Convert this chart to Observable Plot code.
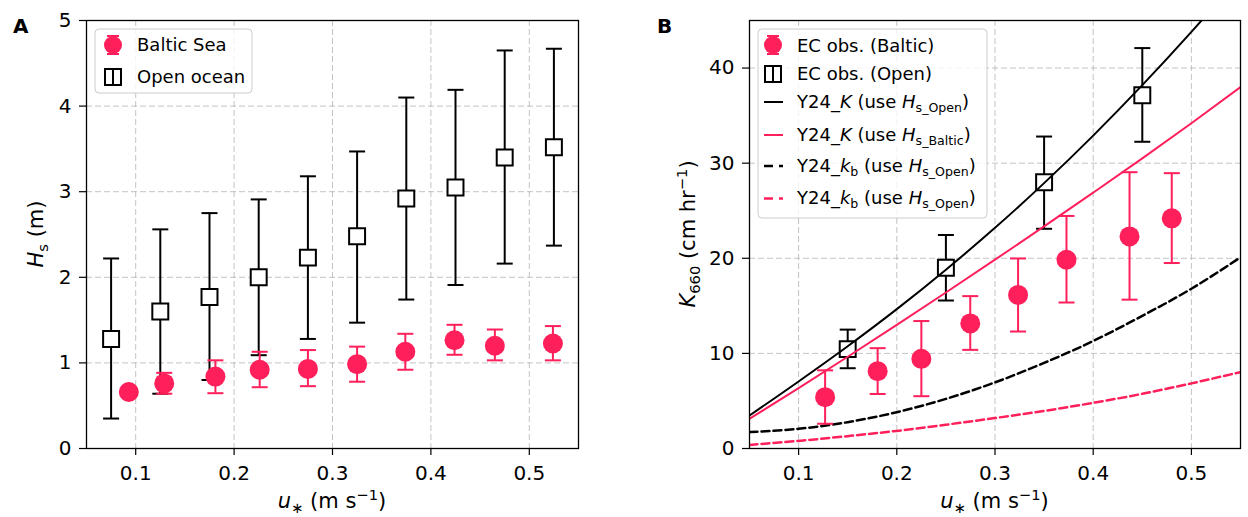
<!DOCTYPE html>
<html><head><meta charset="utf-8">
<script src="https://cdn.jsdelivr.net/npm/d3@7"></script>
<script src="https://cdn.jsdelivr.net/npm/@observablehq/plot@0.6"></script>
<style>
body{margin:0;background:#fff;}
#wrap{display:flex;width:1248px;height:517px;}
#wrap svg{font-family:"DejaVu Sans",sans-serif;overflow:visible;}
#wrap svg g[aria-label$="tick label"]{font-size:20px !important;}
#wrap svg g[aria-label$="tick label"] text{font-size:20px !important;}
</style></head><body><div id="wrap"></div>
<script>
// ---------- Panel A data ----------
const uOpenA   = [0.075,0.125,0.175,0.225,0.275,0.325,0.375,0.425,0.475,0.525];
const hsOpen   = [1.28,1.60,1.77,2.00,2.23,2.48,2.92,3.05,3.40,3.52];
const hsOpenLo = [0.35,0.64,0.80,1.09,1.28,1.47,1.74,1.91,2.16,2.37];
const hsOpenHi = [2.22,2.56,2.75,2.91,3.18,3.47,4.10,4.19,4.65,4.67];
const uBalticA   = [0.093,0.129,0.181,0.226,0.275,0.325,0.374,0.424,0.465,0.524];
const hsBaltic   = [0.66,0.76,0.84,0.92,0.93,0.985,1.13,1.265,1.20,1.227];
const hsBalticLo = [0.66,0.64,0.646,0.716,0.728,0.78,0.92,1.095,1.03,1.03];
const hsBalticHi = [0.66,0.884,1.03,1.13,1.15,1.19,1.34,1.445,1.39,1.43];
// ---------- Panel B data ----------
const uOpenB  = [0.15,0.25,0.35,0.45];
const kOpen   = [10.45,19.0,28.0,37.15];
const kOpenLo = [8.44,15.56,23.1,32.25];
const kOpenHi = [12.5,22.45,32.8,42.1];
const uBalticB  = [0.127,0.1805,0.225,0.2748,0.3235,0.3728,0.437,0.48];
const kBaltic   = [5.4,8.13,9.43,13.15,16.15,19.84,22.3,24.2];
const kBalticLo = [2.6,5.73,5.5,10.37,12.3,15.35,15.65,19.5];
const kBalticHi = [8.22,10.55,13.4,16.02,19.98,24.45,29.05,28.95];
const uModel       = [0.05,0.10,0.15,0.20,0.25,0.30,0.35,0.40,0.45,0.50,0.55];
const kOpenModel   = [3.47,7.05,10.75,14.65,18.8,23.2,27.9,32.9,38.2,43.8,49.7];
const kBalticModel = [3.12,6.35,9.65,13.0,16.4,19.85,23.35,26.9,30.5,34.2,38.0];
const kbOpenModel  = [1.72,2.07,2.77,3.82,5.22,6.95,9.0,11.3,13.95,16.8,20.1];
const kbPinkModel  = [0.38,0.8,1.3,1.85,2.5,3.2,3.95,4.8,5.75,6.85,8.03];
const xTicks = [0.1,0.2,0.3,0.4,0.5];
const yTicksA = [0,1,2,3,4,5];
const yTicksB = [0,10,20,30,40];

const PINK = "#ff1f5b";
const rows = (xs, ...cols) => xs.map((x,i)=>({x, v:cols[0][i], lo:cols[1][i], hi:cols[2][i]}));
const openA = rows(uOpenA, hsOpen, hsOpenLo, hsOpenHi);
const balA  = rows(uBalticA, hsBaltic, hsBalticLo, hsBalticHi);
const openB = rows(uOpenB, kOpen, kOpenLo, kOpenHi);
const balB  = rows(uBalticB, kBaltic, kBalticLo, kBalticHi);
const model = (ys)=>uModel.map((x,i)=>({x, y:ys[i]}));

const capSymbol = {draw(ctx, size){const w=Math.sqrt(size/Math.PI); ctx.moveTo(-w,0); ctx.lineTo(w,0);}};
const grid = {stroke:"#b0b0b0", strokeOpacity:0.75, strokeWidth:1, strokeDasharray:"6,3"};
function errorbars(data, color){
  return [
    Plot.ruleX(data, {x:"x", y1:"lo", y2:"hi", stroke:color, strokeWidth:2}),
    Plot.dot(data, {x:"x", y:"lo", symbol:capSymbol, r:8, stroke:color, strokeWidth:2}),
    Plot.dot(data, {x:"x", y:"hi", symbol:capSymbol, r:8, stroke:color, strokeWidth:2})
  ];
}
function axes(yt){
  return [
    Plot.gridX(xTicks, grid), Plot.gridY(yt, grid),
    Plot.axisX(xTicks, {tickSize:7, tickPadding:10, fontSize:20, tickFormat:d=>d.toFixed(1), label:null, strokeWidth:1.2}),
    Plot.axisY(yt, {tickSize:7, tickPadding:8, fontSize:20, tickFormat:d=>String(d), label:null, strokeWidth:1.2})
  ];
}
const smooth = "monotone-x";

const chartA = Plot.plot({
  width:624, height:517, marginLeft:86, marginRight:46, marginTop:20, marginBottom:69,
  style:{fontFamily:"DejaVu Sans", fontSize:"20px", color:"#000", background:"#fff"},
  x:{domain:[0.05,0.55]}, y:{domain:[0,5]},
  marks:[
    ...axes(yTicksA),
    ...errorbars(openA, "#000"),
    Plot.dot(openA, {x:"x", y:"v", symbol:"square", r:9, fill:"#fff", stroke:"#000", strokeWidth:2}),
    ...errorbars(balA, PINK),
    Plot.dot(balA, {x:"x", y:"v", r:10, fill:PINK}),
    Plot.frame({stroke:"#000", strokeWidth:1.3})
  ]
});

const chartB = Plot.plot({
  width:624, height:517, marginLeft:125, marginRight:8, marginTop:20, marginBottom:69,
  style:{fontFamily:"DejaVu Sans", fontSize:"20px", color:"#000", background:"#fff"},
  x:{domain:[0.05,0.55]}, y:{domain:[0,45]},
  marks:[
    ...axes(yTicksB),
    ...errorbars(openB, "#000"),
    Plot.dot(openB, {x:"x", y:"v", symbol:"square", r:9, fill:"#fff", stroke:"#000", strokeWidth:2}),
    Plot.line(model(kOpenModel), {x:"x", y:"y", stroke:"#000", strokeWidth:2, curve:smooth, clip:true}),
    Plot.line(model(kBalticModel), {x:"x", y:"y", stroke:PINK, strokeWidth:2, curve:smooth, clip:true}),
    Plot.line(model(kbOpenModel), {x:"x", y:"y", stroke:"#000", strokeWidth:2.5, strokeDasharray:"8,4", curve:smooth, clip:true}),
    Plot.line(model(kbPinkModel), {x:"x", y:"y", stroke:PINK, strokeWidth:2.5, strokeDasharray:"8,4", curve:smooth, clip:true}),
    ...errorbars(balB, PINK),
    Plot.dot(balB, {x:"x", y:"v", r:10, fill:PINK}),
    Plot.frame({stroke:"#000", strokeWidth:1.3})
  ]
});

document.getElementById("wrap").append(chartA, chartB);
for (const c of [chartA, chartB]) {
  d3.select(c).selectAll('g[aria-label$="tick label"]').attr("font-size", 20);
}

function rich(g, x, y, parts, {size=20, anchor="start", rotate=0, weight="normal"}={}){
  const t = g.append("text").attr("transform",`translate(${x},${y}) rotate(${rotate})`)
    .attr("text-anchor",anchor).attr("font-size",size).attr("font-weight",weight)
    .attr("fill","#000").attr("font-family","DejaVu Sans");
  let shift=0;
  for(const p of parts){
    const ts=t.append("tspan").text(p.t);
    if(p.i) ts.attr("font-style","italic");
    const target = p.s==="sub"? size*0.22 : p.s==="sup"? -size*0.38 : 0;
    ts.attr("dy", target-shift); shift=target;
    if(p.s) ts.attr("font-size", size*0.7);
  }
  return t;
}

// ---- Panel A annotations ----
const sA = d3.select(chartA);
rich(sA, 13, 33, [{t:"A"}], {weight:"bold"});
rich(sA, 332, 508, [{t:"u",i:1},{t:"∗",s:"sub"},{t:" (m s"},{t:"−1",s:"sup"},{t:")"}], {anchor:"middle", size:21});
rich(sA, 43, 234, [{t:"H",i:1},{t:"s",s:"sub"},{t:" (m)"}], {anchor:"middle", rotate:-90, size:21});
// legend A
const lA = sA.append("g");
lA.append("rect").attr("x",95).attr("y",29).attr("width",157).attr("height",64).attr("rx",4)
  .attr("fill","#fff").attr("fill-opacity",0.8).attr("stroke","#cccccc");
lA.append("line").attr("x1",113).attr("x2",113).attr("y1",36).attr("y2",54).attr("stroke",PINK).attr("stroke-width",2);
lA.append("line").attr("x1",107).attr("x2",119).attr("y1",36).attr("y2",36).attr("stroke",PINK).attr("stroke-width",2);
lA.append("line").attr("x1",107).attr("x2",119).attr("y1",54).attr("y2",54).attr("stroke",PINK).attr("stroke-width",2);
lA.append("circle").attr("cx",113).attr("cy",45).attr("r",9).attr("fill",PINK);
lA.append("rect").attr("x",105).attr("y",69).attr("width",16).attr("height",16).attr("fill","#fff").attr("stroke","#000").attr("stroke-width",2);
lA.append("line").attr("x1",113).attr("x2",113).attr("y1",69).attr("y2",85).attr("stroke","#000").attr("stroke-width",2);
rich(lA, 137, 51, [{t:"Baltic Sea"}], {size:18});
rich(lA, 137, 83, [{t:"Open ocean"}], {size:18});

// ---- Panel B annotations ---- (offset 624)
const sB = d3.select(chartB);
const o = 624;
rich(sB, 657-o, 33, [{t:"B"}], {weight:"bold"});
rich(sB, 994.5-o, 508, [{t:"u",i:1},{t:"∗",s:"sub"},{t:" (m s"},{t:"−1",s:"sup"},{t:")"}], {anchor:"middle", size:21});
rich(sB, 695-o, 234, [{t:"K",i:1},{t:"660",s:"sub"},{t:" (cm hr"},{t:"−1",s:"sup"},{t:")"}], {anchor:"middle", rotate:-90, size:21});
const lB = sB.append("g").attr("transform",`translate(${-o},0)`);
lB.append("rect").attr("x",758).attr("y",29).attr("width",229).attr("height",189).attr("rx",4)
  .attr("fill","#fff").attr("fill-opacity",0.8).attr("stroke","#cccccc");
const mx=773;
lB.append("line").attr("x1",mx).attr("x2",mx).attr("y1",36).attr("y2",54).attr("stroke",PINK).attr("stroke-width",2);
lB.append("line").attr("x1",mx-6).attr("x2",mx+6).attr("y1",36).attr("y2",36).attr("stroke",PINK).attr("stroke-width",2);
lB.append("line").attr("x1",mx-6).attr("x2",mx+6).attr("y1",54).attr("y2",54).attr("stroke",PINK).attr("stroke-width",2);
lB.append("circle").attr("cx",mx).attr("cy",45).attr("r",9).attr("fill",PINK);
lB.append("rect").attr("x",mx-8).attr("y",66).attr("width",16).attr("height",16).attr("fill","#fff").attr("stroke","#000").attr("stroke-width",2);
lB.append("line").attr("x1",mx).attr("x2",mx).attr("y1",66).attr("y2",82).attr("stroke","#000").attr("stroke-width",2);
const legLines = [
  {y:102, c:"#000", d:null}, {y:135, c:PINK, d:null},
  {y:166, c:"#000", d:"9,6"}, {y:198.5, c:PINK, d:"9,6"}
];
for(const L of legLines){
  const ln = lB.append("line").attr("x1",764).attr("x2",783).attr("y1",L.y).attr("y2",L.y)
    .attr("stroke",L.c).attr("stroke-width",L.d?2.5:2);
  if(L.d) ln.attr("stroke-dasharray",L.d);
}
const tx=797;
rich(lB, tx, 51.5, [{t:"EC obs. (Baltic)"}], {size:18});
rich(lB, tx, 80, [{t:"EC obs. (Open)"}], {size:18});
rich(lB, tx, 108, [{t:"Y24_"},{t:"K",i:1},{t:" (use "},{t:"H",i:1},{t:"s_Open",s:"sub"},{t:")"}], {size:18});
rich(lB, tx, 141, [{t:"Y24_"},{t:"K",i:1},{t:" (use "},{t:"H",i:1},{t:"s_Baltic",s:"sub"},{t:")"}], {size:18});
rich(lB, tx, 172, [{t:"Y24_"},{t:"k",i:1},{t:"b",s:"sub"},{t:" (use "},{t:"H",i:1},{t:"s_Open",s:"sub"},{t:")"}], {size:18});
rich(lB, tx, 204, [{t:"Y24_"},{t:"k",i:1},{t:"b",s:"sub"},{t:" (use "},{t:"H",i:1},{t:"s_Open",s:"sub"},{t:")"}], {size:18});
</script></body></html>
